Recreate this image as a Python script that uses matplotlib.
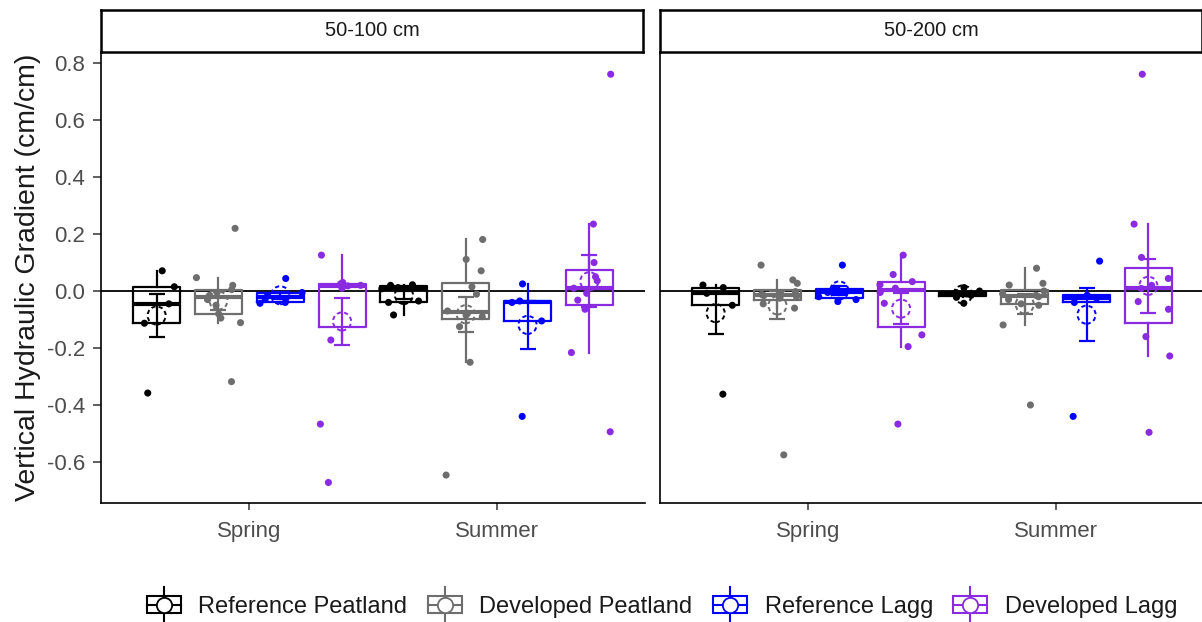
import numpy as np
import matplotlib
matplotlib.use("Agg")
import matplotlib.pyplot as plt
from matplotlib.patches import Rectangle
from matplotlib.lines import Line2D
from matplotlib.legend_handler import HandlerBase

plt.rcParams['font.family'] = ['Liberation Sans', 'DejaVu Sans']

# ---------------- data ----------------
panels = ["50-100 cm", "50-200 cm"]
seasons = ["Spring", "Summer"]
sites = ["Reference Peatland", "Developed Peatland", "Reference Lagg", "Developed Lagg"]
site_colors = ["#000000", "#6e6e6e", "#0000FF", "#8A2BE2"]

# 50-100 cm, Spring
d100_spring_ref_peat = [0.071, 0.015, -0.045, -0.113, -0.358]
d100_spring_dev_peat = [0.22, 0.047, 0.02, 0.005, -0.005, -0.015, -0.02, -0.03, -0.05, -0.08, -0.095, -0.111, -0.318]
d100_spring_ref_lagg = [0.044, -0.005, -0.015, -0.03, -0.04, -0.043]
d100_spring_dev_lagg = [0.126, 0.03, 0.025, 0.02, 0.018, 0.015, 0.01, -0.172, -0.467, -0.672]
# 50-100 cm, Summer
d100_summer_ref_peat = [0.022, 0.02, 0.012, 0.008, -0.035, -0.04, -0.084]
d100_summer_dev_peat = [0.181, 0.111, 0.071, 0.015, -0.011, -0.07, -0.078, -0.085, -0.09, -0.125, -0.25, -0.646]
d100_summer_ref_lagg = [0.025, -0.035, -0.04, -0.105, -0.44]
d100_summer_dev_lagg = [0.761, 0.235, 0.1, 0.05, 0.036, 0.01, -0.008, -0.032, -0.064, -0.216, -0.494]
# 50-200 cm, Spring
d200_spring_ref_peat = [0.021, 0.012, -0.008, -0.05, -0.362]
d200_spring_dev_peat = [0.091, 0.039, 0.027, -0.002, -0.008, -0.012, -0.016, -0.02, -0.025, -0.045, -0.06, -0.575]
d200_spring_ref_lagg = [0.091, 0.01, 0.005, -0.005, -0.02, -0.03, -0.037]
d200_spring_dev_lagg = [0.126, 0.058, 0.033, 0.022, 0.01, -0.005, -0.043, -0.154, -0.195, -0.467]
# 50-200 cm, Summer
d200_summer_ref_peat = [0.012, 0.0, -0.005, -0.01, -0.015, -0.022, -0.043]
d200_summer_dev_peat = [0.08, 0.027, 0.021, 0.0, -0.01, -0.015, -0.02, -0.03, -0.045, -0.05, -0.119, -0.4]
d200_summer_ref_lagg = [0.105, -0.015, -0.025, -0.04, -0.44]
d200_summer_dev_lagg = [0.761, 0.235, 0.118, 0.044, 0.02, 0.009, -0.037, -0.064, -0.16, -0.228, -0.496]

y_ticks = [-0.6, -0.4, -0.2, 0.0, 0.2, 0.4, 0.6, 0.8]
y_label = "Vertical Hydraulic Gradient (cm/cm)"

groups = {
    ("50-100 cm", "Spring"): [d100_spring_ref_peat, d100_spring_dev_peat, d100_spring_ref_lagg, d100_spring_dev_lagg],
    ("50-100 cm", "Summer"): [d100_summer_ref_peat, d100_summer_dev_peat, d100_summer_ref_lagg, d100_summer_dev_lagg],
    ("50-200 cm", "Spring"): [d200_spring_ref_peat, d200_spring_dev_peat, d200_spring_ref_lagg, d200_spring_dev_lagg],
    ("50-200 cm", "Summer"): [d200_summer_ref_peat, d200_summer_dev_peat, d200_summer_ref_lagg, d200_summer_dev_lagg],
}

# ---------------- figure ----------------
W, H = 1202, 622
fig = plt.figure(figsize=(W / 100, H / 100), dpi=100)

def fx(px):
    return px / W

def fy(py):
    return 1 - py / H

panel_left = [101, 660]
panel_w = 544
top_px, bot_px = 52, 503
strip_top = 10

rng = np.random.default_rng(7)
dodge = [-0.375, -0.125, 0.125, 0.375]
box_w = 0.19
tick_color = "#4d4d4d"

axes = []
for pi, panel in enumerate(panels):
    ax = fig.add_axes([fx(panel_left[pi]), fy(bot_px), fx(panel_w), (bot_px - top_px) / H])
    axes.append(ax)
    ax.set_xlim(0.4, 2.6)
    ax.set_ylim(-0.744, 0.839)
    ax.axhline(0, color="black", lw=1.3, zorder=1)
    for si, season in enumerate(seasons):
        data_list = groups[(panel, season)]
        for gi, vals in enumerate(data_list):
            col = site_colors[gi]
            xc = si + 1 + dodge[gi]
            v = np.asarray(vals, dtype=float)
            ax.boxplot([v], positions=[xc], widths=box_w, showfliers=False,
                       showcaps=False, whis=1.5, patch_artist=False, manage_ticks=False,
                       boxprops=dict(color=col, lw=1.6),
                       whiskerprops=dict(color=col, lw=1.6),
                       medianprops=dict(color=col, lw=3.0, solid_capstyle='butt'),
                       zorder=2)
            jx = xc + rng.uniform(-0.09, 0.09, size=len(v))
            ax.scatter(jx, v, s=26, color=col, edgecolors='none', zorder=3)
            m = v.mean()
            se = v.std(ddof=1) / np.sqrt(len(v))
            ax.errorbar([xc], [m], yerr=[se], color=col, lw=1.6, capsize=5.5,
                        capthick=1.6, fmt='none', zorder=4)
            ax.scatter([xc], [m], s=170, facecolors='none', edgecolors=col,
                       linewidths=1.4, linestyle=(0, (2.2, 1.6)), zorder=5)
    for side in ["top", "right"]:
        ax.spines[side].set_visible(False)
    for side in ["left", "bottom"]:
        ax.spines[side].set_linewidth(1.2)
        ax.spines[side].set_color("black")
    ax.set_xticks([1, 2])
    ax.set_xticklabels(seasons, fontsize=16, color=tick_color)
    ax.tick_params(axis='x', length=5, width=1.1, color="#333333", pad=8)
    if pi == 0:
        ax.set_yticks(y_ticks)
        ax.set_yticklabels([f"{t:.1f}" for t in y_ticks], fontsize=16, color=tick_color)
        ax.tick_params(axis='y', length=5.5, width=1.1, color="#333333", pad=6)
        ax.set_ylabel(y_label, fontsize=20.5, color="#1a1a1a", labelpad=4)
    else:
        ax.set_yticks([])
    # strip
    sax = fig.add_axes([fx(panel_left[pi]), fy(top_px), fx(panel_w - 2), (top_px - strip_top) / H])
    sax.set_xticks([])
    sax.set_yticks([])
    for s in sax.spines.values():
        s.set_linewidth(1.8)
        s.set_color("black")
    sax.text(0.5, 0.5, panel, ha='center', va='center', fontsize=14.5, color="#1a1a1a",
             transform=sax.transAxes)


# ---------------- legend ----------------
class BoxKeyHandler(HandlerBase):
    def create_artists(self, legend, orig_handle, xdescent, ydescent, width, height,
                       fontsize, trans):
        col = orig_handle.get_color()
        x0, y0 = -xdescent, -ydescent
        cx, cy = x0 + width / 2, y0 + height / 2
        rect = Rectangle((x0, y0), width, height, fill=False, edgecolor=col, lw=1.5,
                         transform=trans)
        vline = Line2D([cx, cx], [y0 - height * 0.55, y0 + height * 1.55], color=col,
                       lw=1.5, transform=trans)
        hline = Line2D([x0, x0 + width], [cy, cy], color=col, lw=1.5, transform=trans)
        circ = Line2D([cx], [cy], marker='o', markersize=11, markerfacecolor='white',
                      markeredgecolor=col, markeredgewidth=1.3, linestyle='none',
                      transform=trans)
        return [rect, vline, hline, circ]


handles = [Line2D([], [], color=c) for c in site_colors]
fig.legend(handles, sites, loc='center', bbox_to_anchor=(fx(662), fy(607)), ncol=4,
           frameon=False, fontsize=17, handler_map={Line2D: BoxKeyHandler()},
           handlelength=1.45, handleheight=0.75, handletextpad=0.75, columnspacing=0.85,
           labelcolor="#1a1a1a")

fig.savefig("out.png", dpi=100)
